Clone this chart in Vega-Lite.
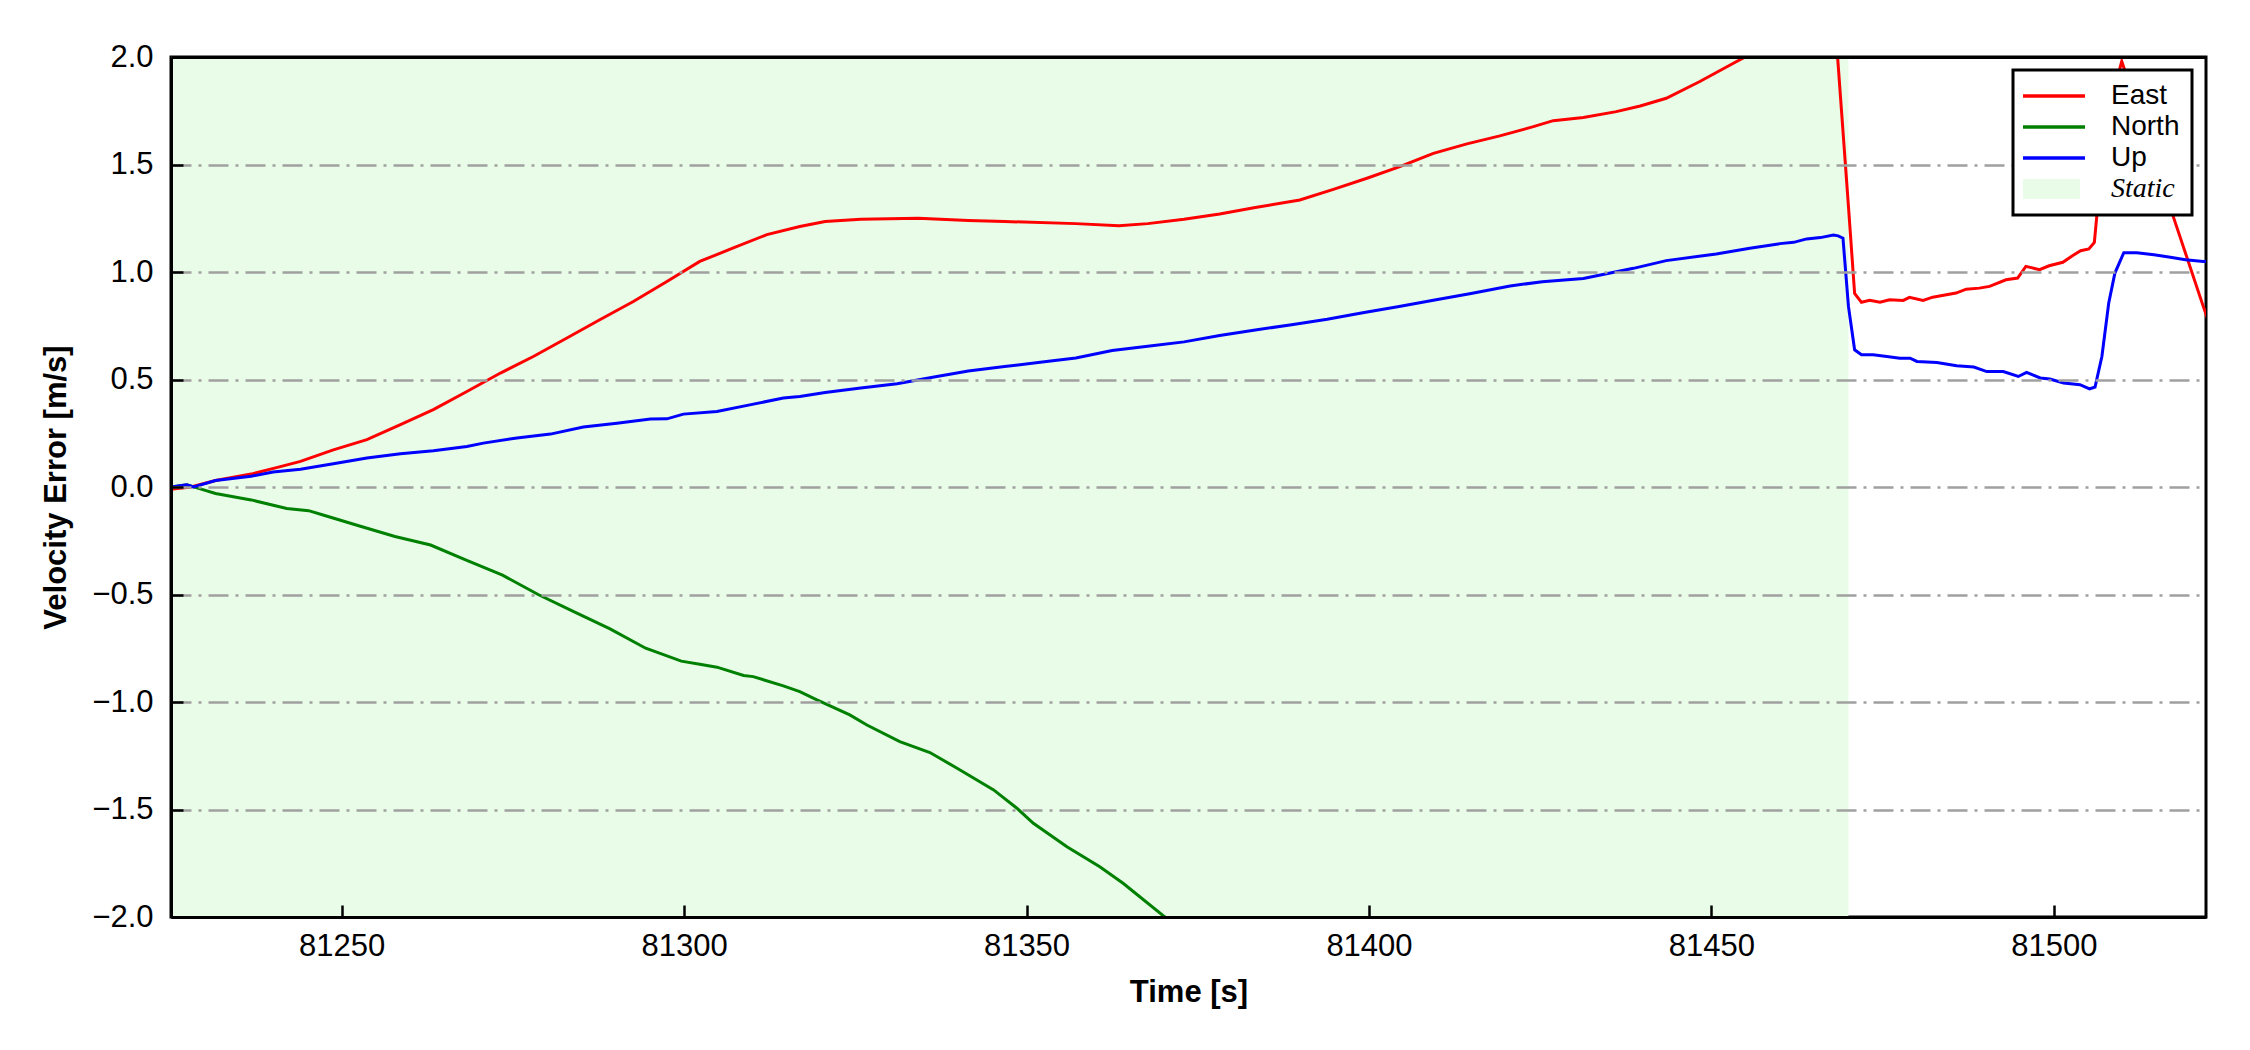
{
  "$schema": "https://vega.github.io/schema/vega-lite/v6.json",
  "width": 2035,
  "height": 860,
  "autosize": {"type": "none"},
  "padding": {"left": 171, "top": 57, "right": 44, "bottom": 133},
  "background": "white",
  "config": {
    "view": {"stroke": "black", "strokeWidth": 3},
    "font": "Liberation Sans",
    "legend": {"strokeWidth": 3},
    "axis": {
      "labelFont": "Liberation Sans",
      "titleFont": "Liberation Sans",
      "labelFontSize": 31,
      "titleFontSize": 31,
      "titleFontWeight": "bold",
      "labelColor": "black",
      "titleColor": "black",
      "domain": true,
      "domainColor": "black",
      "domainWidth": 3,
      "tickColor": "black",
      "tickWidth": 2.5,
      "tickSize": -12
    }
  },
  "resolve": {"axis": {"x": "independent"}},
  "datasets": {
    "lines": [
      {"s":"East","t":81225.1,"v":-0.01},{"s":"East","t":81228.0,"v":0.0},{"s":"East","t":81231.6,"v":0.03},{"s":"East","t":81236.8,"v":0.06},{"s":"East","t":81240.5,"v":0.09},{"s":"East","t":81244.0,"v":0.119},{"s":"East","t":81248.8,"v":0.173},{"s":"East","t":81253.7,"v":0.22},{"s":"East","t":81258.6,"v":0.29},{"s":"East","t":81263.4,"v":0.36},{"s":"East","t":81268.3,"v":0.444},{"s":"East","t":81273.2,"v":0.53},{"s":"East","t":81278.0,"v":0.607},{"s":"East","t":81282.9,"v":0.693},{"s":"East","t":81287.7,"v":0.778},{"s":"East","t":81292.6,"v":0.863},{"s":"East","t":81297.5,"v":0.956},{"s":"East","t":81302.3,"v":1.049},{"s":"East","t":81307.2,"v":1.112},{"s":"East","t":81312.1,"v":1.174},{"s":"East","t":81316.9,"v":1.212},{"s":"East","t":81320.6,"v":1.235},{"s":"East","t":81325.8,"v":1.245},{"s":"East","t":81334.2,"v":1.25},{"s":"East","t":81341.5,"v":1.24},{"s":"East","t":81346.8,"v":1.235},{"s":"East","t":81357.2,"v":1.225},{"s":"East","t":81363.5,"v":1.215},{"s":"East","t":81367.7,"v":1.225},{"s":"East","t":81373.0,"v":1.245},{"s":"East","t":81378.2,"v":1.27},{"s":"East","t":81383.4,"v":1.3},{"s":"East","t":81389.9,"v":1.335},{"s":"East","t":81394.8,"v":1.384},{"s":"East","t":81399.7,"v":1.436},{"s":"East","t":81404.5,"v":1.49},{"s":"East","t":81409.4,"v":1.552},{"s":"East","t":81414.3,"v":1.596},{"s":"East","t":81419.1,"v":1.633},{"s":"East","t":81424.0,"v":1.676},{"s":"East","t":81426.9,"v":1.704},{"s":"East","t":81431.3,"v":1.719},{"s":"East","t":81436.1,"v":1.746},{"s":"East","t":81439.6,"v":1.772},{"s":"East","t":81443.4,"v":1.808},{"s":"East","t":81448.3,"v":1.886},{"s":"East","t":81453.2,"v":1.971},{"s":"East","t":81455.5,"v":2.01},{"s":"East","t":81460.0,"v":2.12},{"s":"East","t":81466.0,"v":2.22},{"s":"East","t":81468.3,"v":2.05},{"s":"East","t":81470.0,"v":1.305},{"s":"East","t":81470.9,"v":0.9},{"s":"East","t":81471.9,"v":0.859},{"s":"East","t":81473.1,"v":0.868},{"s":"East","t":81474.6,"v":0.859},{"s":"East","t":81476.0,"v":0.871},{"s":"East","t":81478.0,"v":0.868},{"s":"East","t":81478.9,"v":0.882},{"s":"East","t":81480.9,"v":0.868},{"s":"East","t":81482.3,"v":0.883},{"s":"East","t":81484.3,"v":0.894},{"s":"East","t":81485.7,"v":0.902},{"s":"East","t":81487.2,"v":0.92},{"s":"East","t":81489.1,"v":0.925},{"s":"East","t":81490.6,"v":0.933},{"s":"East","t":81493.0,"v":0.964},{"s":"East","t":81494.7,"v":0.972},{"s":"East","t":81495.9,"v":1.026},{"s":"East","t":81497.9,"v":1.011},{"s":"East","t":81499.3,"v":1.029},{"s":"East","t":81501.3,"v":1.045},{"s":"East","t":81502.7,"v":1.076},{"s":"East","t":81503.9,"v":1.099},{"s":"East","t":81505.1,"v":1.107},{"s":"East","t":81505.9,"v":1.138},{"s":"East","t":81506.3,"v":1.275},{"s":"East","t":81506.8,"v":1.46},{"s":"East","t":81508.0,"v":1.75},{"s":"East","t":81509.9,"v":1.98},{"s":"East","t":81517.4,"v":1.26},{"s":"East","t":81521.8,"v":0.84},{"s":"East","t":81523.0,"v":0.73},
      {"s":"North","t":81225.1,"v":0.0},{"s":"North","t":81227.4,"v":0.01},{"s":"North","t":81229.5,"v":-0.01},{"s":"North","t":81231.6,"v":-0.03},{"s":"North","t":81236.8,"v":-0.06},{"s":"North","t":81242.0,"v":-0.1},{"s":"North","t":81245.2,"v":-0.11},{"s":"North","t":81247.3,"v":-0.13},{"s":"North","t":81252.5,"v":-0.18},{"s":"North","t":81257.8,"v":-0.23},{"s":"North","t":81263.0,"v":-0.27},{"s":"North","t":81268.2,"v":-0.34},{"s":"North","t":81273.5,"v":-0.41},{"s":"North","t":81278.7,"v":-0.5},{"s":"North","t":81283.9,"v":-0.58},{"s":"North","t":81289.2,"v":-0.66},{"s":"North","t":81294.4,"v":-0.75},{"s":"North","t":81299.6,"v":-0.81},{"s":"North","t":81302.3,"v":-0.824},{"s":"North","t":81304.8,"v":-0.838},{"s":"North","t":81308.7,"v":-0.877},{"s":"North","t":81310.1,"v":-0.882},{"s":"North","t":81314.5,"v":-0.925},{"s":"North","t":81316.9,"v":-0.952},{"s":"North","t":81319.4,"v":-0.99},{"s":"North","t":81324.2,"v":-1.06},{"s":"North","t":81326.7,"v":-1.107},{"s":"North","t":81331.5,"v":-1.184},{"s":"North","t":81335.9,"v":-1.235},{"s":"North","t":81340.3,"v":-1.316},{"s":"North","t":81345.2,"v":-1.409},{"s":"North","t":81348.6,"v":-1.494},{"s":"North","t":81351.0,"v":-1.564},{"s":"North","t":81355.9,"v":-1.673},{"s":"North","t":81360.7,"v":-1.766},{"s":"North","t":81364.1,"v":-1.843},{"s":"North","t":81370.0,"v":-1.995},{"s":"North","t":81373.0,"v":-2.06},
      {"s":"Up","t":81225.1,"v":0.0},{"s":"Up","t":81227.4,"v":0.01},{"s":"Up","t":81228.4,"v":0.0},{"s":"Up","t":81231.6,"v":0.03},{"s":"Up","t":81236.8,"v":0.05},{"s":"Up","t":81240.0,"v":0.07},{"s":"Up","t":81244.0,"v":0.083},{"s":"Up","t":81248.8,"v":0.108},{"s":"Up","t":81253.7,"v":0.135},{"s":"Up","t":81258.6,"v":0.155},{"s":"Up","t":81263.4,"v":0.169},{"s":"Up","t":81268.3,"v":0.188},{"s":"Up","t":81270.7,"v":0.204},{"s":"Up","t":81275.6,"v":0.228},{"s":"Up","t":81280.5,"v":0.246},{"s":"Up","t":81285.3,"v":0.279},{"s":"Up","t":81290.2,"v":0.297},{"s":"Up","t":81295.1,"v":0.316},{"s":"Up","t":81297.5,"v":0.317},{"s":"Up","t":81299.9,"v":0.339},{"s":"Up","t":81304.8,"v":0.351},{"s":"Up","t":81309.6,"v":0.382},{"s":"Up","t":81314.5,"v":0.414},{"s":"Up","t":81316.9,"v":0.421},{"s":"Up","t":81320.6,"v":0.44},{"s":"Up","t":81325.8,"v":0.46},{"s":"Up","t":81331.1,"v":0.48},{"s":"Up","t":81336.3,"v":0.51},{"s":"Up","t":81341.5,"v":0.54},{"s":"Up","t":81346.8,"v":0.56},{"s":"Up","t":81352.0,"v":0.58},{"s":"Up","t":81357.2,"v":0.6},{"s":"Up","t":81362.5,"v":0.635},{"s":"Up","t":81367.7,"v":0.655},{"s":"Up","t":81373.0,"v":0.675},{"s":"Up","t":81378.2,"v":0.705},{"s":"Up","t":81383.4,"v":0.73},{"s":"Up","t":81388.7,"v":0.755},{"s":"Up","t":81393.9,"v":0.78},{"s":"Up","t":81399.1,"v":0.81},{"s":"Up","t":81404.4,"v":0.84},{"s":"Up","t":81409.6,"v":0.87},{"s":"Up","t":81414.9,"v":0.9},{"s":"Up","t":81420.6,"v":0.935},{"s":"Up","t":81425.3,"v":0.955},{"s":"Up","t":81431.3,"v":0.97},{"s":"Up","t":81438.6,"v":1.017},{"s":"Up","t":81443.4,"v":1.053},{"s":"Up","t":81450.7,"v":1.084},{"s":"Up","t":81455.6,"v":1.11},{"s":"Up","t":81460.0,"v":1.132},{"s":"Up","t":81462.0,"v":1.138},{"s":"Up","t":81463.9,"v":1.154},{"s":"Up","t":81465.9,"v":1.16},{"s":"Up","t":81467.8,"v":1.172},{"s":"Up","t":81468.5,"v":1.168},{"s":"Up","t":81469.2,"v":1.157},{"s":"Up","t":81470.0,"v":0.84},{"s":"Up","t":81470.9,"v":0.638},{"s":"Up","t":81471.9,"v":0.615},{"s":"Up","t":81473.6,"v":0.615},{"s":"Up","t":81475.6,"v":0.607},{"s":"Up","t":81477.5,"v":0.599},{"s":"Up","t":81479.0,"v":0.599},{"s":"Up","t":81480.0,"v":0.584},{"s":"Up","t":81482.9,"v":0.579},{"s":"Up","t":81485.8,"v":0.564},{"s":"Up","t":81488.3,"v":0.558},{"s":"Up","t":81490.2,"v":0.537},{"s":"Up","t":81492.6,"v":0.537},{"s":"Up","t":81494.8,"v":0.514},{"s":"Up","t":81496.0,"v":0.533},{"s":"Up","t":81498.0,"v":0.507},{"s":"Up","t":81499.4,"v":0.502},{"s":"Up","t":81501.4,"v":0.484},{"s":"Up","t":81503.8,"v":0.476},{"s":"Up","t":81505.2,"v":0.456},{"s":"Up","t":81506.0,"v":0.465},{"s":"Up","t":81507.0,"v":0.607},{"s":"Up","t":81508.0,"v":0.856},{"s":"Up","t":81508.9,"v":0.995},{"s":"Up","t":81510.2,"v":1.09},{"s":"Up","t":81512.1,"v":1.09},{"s":"Up","t":81514.6,"v":1.08},{"s":"Up","t":81517.0,"v":1.069},{"s":"Up","t":81519.2,"v":1.057},{"s":"Up","t":81521.8,"v":1.049},{"s":"Up","t":81523.0,"v":1.047}
    ],
    "static": [{"s": "Static", "t0": 81225.1, "t1": 81470.0}]
  },
  "layer": [
    {
      "data": {"name": "static"},
      "mark": {"type": "rect", "clip": true},
      "encoding": {
        "x": {
          "field": "t0",
          "type": "quantitative",
          "axis": {"orient": "top", "title": null, "labels": false, "ticks": false, "grid": false, "domain": true, "zindex": 1}
        },
        "x2": {"field": "t1"},
        "color": {"field": "s", "type": "nominal"}
      }
    },
    {
      "data": {"name": "lines"},
      "mark": {"type": "line", "clip": true, "strokeWidth": 3},
      "encoding": {
        "x": {
          "field": "t",
          "type": "quantitative",
          "scale": {"domain": [81225.1, 81522.2], "nice": false, "zero": false},
          "axis": {
            "title": "Time [s]",
            "values": [81250, 81300, 81350, 81400, 81450, 81500],
            "format": "d",
            "grid": false,
            "zindex": 1,
            "labelBaseline": "alphabetic",
            "labelPadding": 50,
            "titleBaseline": "alphabetic",
            "titleY": 84
          }
        },
        "y": {
          "field": "v",
          "type": "quantitative",
          "scale": {"domain": [-2, 2], "nice": false, "zero": false},
          "axis": {
            "title": "Velocity Error [m/s]",
            "values": [-2, -1.5, -1, -0.5, 0, 0.5, 1, 1.5, 2],
            "format": ".1f",
            "grid": true,
            "zindex": 1,
            "gridColor": "#a0a0a0",
            "gridWidth": 2.5,
            "gridDash": [20, 7, 3, 7],
            "labelPadding": 30,
            "titleBaseline": "alphabetic",
            "titleX": -106,
            "titleY": 430
          }
        },
        "color": {
          "field": "s",
          "type": "nominal",
          "scale": {"domain": ["East", "North", "Up", "Static"], "range": ["#ff0000", "#008000", "#0000ff", "#e8fce8"]},
          "legend": {
            "title": null,
            "orient": "none",
            "legendX": 1842,
            "legendY": 13,
            "zindex": 2,
            "strokeColor": "black",
            "fillColor": "white",
            "cornerRadius": 0,
            "padding": 12,
            "rowPadding": 3,
            "labelFontSize": 28,
            "labelColor": "black",
            "labelOffset": 64,
            "labelBaseline": "middle",
            "labelFont": {"expr": "datum.value === 'Static' ? 'Liberation Serif' : 'Liberation Sans'"},
            "labelFontStyle": {"expr": "datum.value === 'Static' ? 'italic' : 'normal'"},
            "symbolSize": 400,
            "symbolOffset": -6,
            "symbolType": {"expr": "datum.value === 'Static' ? 'M-1,-1H4.7V1H-1Z' : 'M-1,0H5.2'"},
            "symbolStrokeWidth": {"expr": "datum.value === 'Static' ? 0 : 3.5"},
            "symbolFillColor": {"expr": "datum.value === 'Static' ? '#e8fce8' : 'transparent'"},
            "symbolStrokeColor": {"expr": "datum.value === 'Static' ? 'transparent' : scale('color', datum.value)"}
          }
        }
      }
    }
  ]
}
